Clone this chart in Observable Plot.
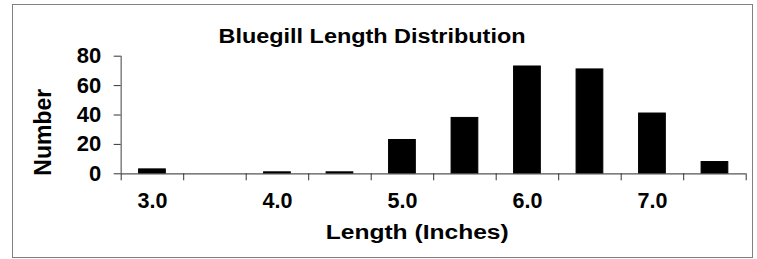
<!DOCTYPE html>
<html>
<head>
<meta charset="utf-8">
<script src="https://cdn.jsdelivr.net/npm/d3@7"></script>
<script src="https://cdn.jsdelivr.net/npm/@observablehq/plot@0.6"></script>
<style>
  html, body { margin: 0; padding: 0; background: #fff; }
  #wrap { position: relative; width: 757px; height: 259px; }
  #border { position: absolute; left: 12px; top: 4px; width: 739px; height: 252px; border: 1.5px solid #808080; pointer-events: none; }
  svg { font-family: "Liberation Sans", Arial, sans-serif; }
</style>
</head>
<body>
<div id="wrap"><div id="border"></div></div>
<script>
const title = "Bluegill Length Distribution";
const xLabel = "Length (Inches)";
const yLabel = "Number";
const lengths = [3.0, 3.5, 4.0, 4.5, 5.0, 5.5, 6.0, 6.5, 7.0, 7.5];
const counts = [3, 0, 1, 1, 23, 38, 73, 71, 41, 8];
const xTickLabels = [3.0, 4.0, 5.0, 6.0, 7.0];
const yTicks = [0, 20, 40, 60, 80];

const half = 0.25;          // half a class width
const barHalf = 0.107;      // half the drawn bar width
const data = lengths.map((l, i) => ({length: l, count: counts[i]}));
const boundaries = lengths.map(l => l - half).concat([lengths[lengths.length - 1] + half]);

const chart = Plot.plot({
  width: 757,
  height: 259,
  marginLeft: 120.7,
  marginRight: 11.3,
  marginTop: 55.7,
  marginBottom: 85.7,
  style: {fontFamily: "'Liberation Sans', Arial, sans-serif", background: "transparent"},
  x: {domain: [lengths[0] - half, lengths[lengths.length - 1] + half]},
  y: {domain: [0, 80]},
  marks: [
    Plot.rectY(data, {
      x1: d => d.length - barHalf,
      x2: d => d.length + barHalf,
      y1: 0,
      y2: "count",
      fill: "black",
      stroke: "black",
      strokeWidth: 1
    }),
    Plot.ruleY([0], {stroke: "#555", strokeWidth: 1.2}),
    Plot.ruleX([lengths[0] - half], {y1: 0, y2: 80, stroke: "#808080", strokeWidth: 1.5}),
    Plot.axisY({
      ticks: yTicks, tickSize: 7, tickPadding: 13, stroke: "#333",
      fontSize: 22, fontWeight: "bold", fill: "black", label: null
    }),
    Plot.axisX({
      ticks: boundaries, tickSize: 7, tickFormat: () => "", stroke: "#333", label: null
    }),
    Plot.axisX({
      ticks: xTickLabels, tickSize: 0, tickPadding: 19, tickFormat: d3.format(".1f"),
      fontSize: 21.5, fontWeight: "bold", fill: "black", label: null
    }),
    Plot.text([title], {
      frameAnchor: "top", dy: -19.7, dx: -61.7, text: d => d,
      fontSize: 20, fontWeight: "bold", fill: "black", lineAnchor: "middle", textAnchor: "middle"
    }),
    Plot.text([xLabel], {
      frameAnchor: "bottom", dy: 58.5, dx: -16.5, text: d => d,
      fontSize: 19.5, fontWeight: "bold", fill: "black", lineAnchor: "middle", textAnchor: "middle"
    }),
    Plot.text([yLabel], {
      frameAnchor: "left", dx: -77.5, dy: 17.2, rotate: -90, text: d => d,
      fontSize: 23, fontWeight: "bold", fill: "black", lineAnchor: "middle", textAnchor: "middle"
    })
  ]
});
const stretch = {[title]: 307, [xLabel]: 183};
d3.select(chart).selectAll("text").each(function() {
  const t = this.textContent;
  if (stretch[t]) {
    this.setAttribute("textLength", stretch[t]);
    this.setAttribute("lengthAdjust", "spacingAndGlyphs");
  }
});
document.getElementById("wrap").prepend(chart);
</script>
</body>
</html>
